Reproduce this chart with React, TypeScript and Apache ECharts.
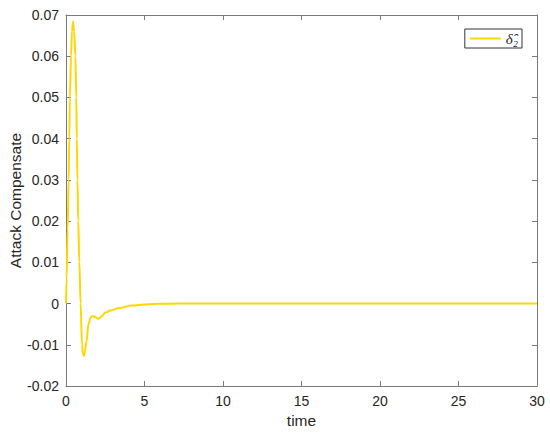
import React, { useEffect, useRef } from "react";
import * as echarts from "echarts";

const seriesName = "δ̂₂";
const timeValues = [0, 0.04, 0.1, 0.17, 0.21, 0.25, 0.32, 0.38, 0.45, 0.52, 0.6, 0.65, 0.69, 0.73, 0.78, 0.85, 0.93, 1.02, 1.08, 1.14, 1.2, 1.3, 1.44, 1.58, 1.72, 1.9, 2.08, 2.3, 2.5, 2.9, 3.35, 4.2, 5.0, 5.5, 6.5, 8, 10, 15, 20, 25, 30];
const compensateValues = [0, 0.006, 0.018, 0.03, 0.04, 0.05, 0.06, 0.066, 0.0684, 0.066, 0.06, 0.05, 0.04, 0.03, 0.02, 0.01, 0, -0.01, -0.0122, -0.0127, -0.0118, -0.0092, -0.0048, -0.0033, -0.003, -0.0034, -0.0037, -0.003, -0.0022, -0.0016, -0.0011, -0.0005, -0.0002, -0.0001, -0.00003, 0, 0, 0, 0, 0, 0];

const xMin = 0, xMax = 30, xStep = 5;
const yMin = -0.02, yMax = 0.07, yStep = 0.01;

export default function App() {
  const ref = useRef<HTMLDivElement>(null);
  useEffect(() => {
    if (!ref.current) return;
    const chart = echarts.init(ref.current, null, { renderer: "svg" });
    const data = timeValues.map((t, i) => [t, compensateValues[i]]);
    const font = "'Liberation Sans', Arial, sans-serif";
    const axisColor = "#7a7a7a";
    const labelColor = "#262626";
    const baseX = {
      type: "value" as const,
      min: xMin,
      max: xMax,
      interval: xStep,
      axisLine: { show: true, onZero: false, lineStyle: { color: axisColor, width: 1 } },
      axisTick: { show: true, inside: true, length: 5, lineStyle: { color: axisColor } },
      splitLine: { show: false },
    };
    const baseY = {
      type: "value" as const,
      min: yMin,
      max: yMax,
      interval: yStep,
      axisLine: { show: true, onZero: false, lineStyle: { color: axisColor, width: 1 } },
      axisTick: { show: true, inside: true, length: 5, lineStyle: { color: axisColor } },
      splitLine: { show: false },
    };
    chart.setOption({
      animation: false,
      backgroundColor: "#ffffff",
      grid: { left: 66, top: 15, right: 13, bottom: 46, containLabel: false, outerBoundsMode: "none" },
      xAxis: [
        {
          ...baseX,
          position: "bottom",
          name: "time",
          nameLocation: "middle",
          nameGap: 26,
          nameMoveOverlap: false,
          nameTextStyle: { fontFamily: font, fontSize: 15.5, color: labelColor },
          axisLabel: { margin: 8, fontFamily: font, fontSize: 14, color: labelColor },
        },
        { ...baseX, position: "top", axisLabel: { show: false } },
      ],
      yAxis: [
        {
          ...baseY,
          position: "left",
          name: "Attack Compensate",
          nameLocation: "middle",
          nameGap: 43,
          nameMoveOverlap: false,
          nameTextStyle: { fontFamily: font, fontSize: 15.5, color: labelColor },
          axisLabel: {
            margin: 7,
            fontFamily: font,
            fontSize: 14,
            color: labelColor,
            formatter: (v: number) => String(Number(v.toFixed(2))),
          },
        },
        { ...baseY, position: "right", axisLabel: { show: false } },
      ],
      legend: {
        right: 28,
        top: 29,
        orient: "vertical",
        backgroundColor: "#ffffff",
        borderColor: "#333333",
        borderWidth: 1,
        borderRadius: 0,
        padding: [2, 4, 2, 5],
        itemWidth: 31,
        itemHeight: 14,
        itemGap: 4,
        textStyle: { fontFamily: "'Liberation Serif', 'DejaVu Serif', serif", fontStyle: "italic", fontSize: 15, color: labelColor },
        data: [{ name: seriesName, icon: "path://M0,6 L31,6 L31,8 L0,8 Z" }],
      },
      series: [
        {
          name: seriesName,
          type: "line",
          xAxisIndex: 0,
          yAxisIndex: 0,
          data,
          showSymbol: false,
          symbol: "none",
          smooth: 0.35,
          smoothMonotone: "x",
          lineStyle: { color: "#FFD700", width: 2 },
          itemStyle: { color: "#FFD700" },
        },
      ],
    });
    return () => chart.dispose();
  }, []);
  return <div ref={ref} style={{ width: 550, height: 432, position: "absolute", left: 0, top: 0 }} />;
}
